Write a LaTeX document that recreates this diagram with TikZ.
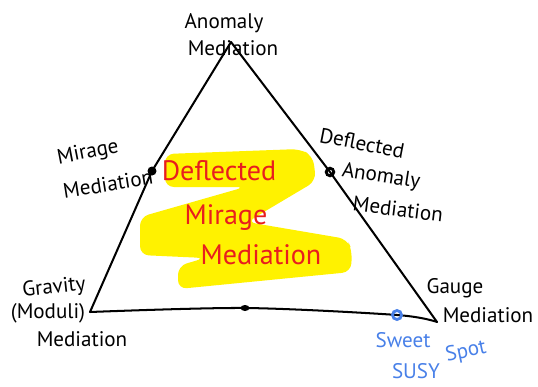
\documentclass[tikz,border=0pt]{standalone}
\usepackage{fontspec}
\setmainfont{PT Sans}
\definecolor{hiyellow}{RGB}{255,242,0}
\definecolor{penred}{RGB}{232,30,30}
\definecolor{penblue}{RGB}{72,128,232}
\begin{document}
\begin{tikzpicture}[x=0.02cm,y=-0.02cm,
  every node/.style={inner sep=0pt, outer sep=0pt, font=\fontsize{12}{14}\selectfont},
  edge/.style={line width=1.15pt, line cap=round, line join=round},
  redlabel/.style={text=penred, font=\fontsize{16}{18}\selectfont},
  bluelabel/.style={text=penblue}]
\useasboundingbox (0,0) rectangle (538,386);
% highlighter scribble
\fill[hiyellow, rounded corners=5pt] (165,154) -- (300,149) -- (313,156) -- (316,181) -- (247,222) -- (347,239)
  -- (352,250) -- (351,272) -- (178,289) -- (178,266) -- (205,258) -- (140,255) -- (140,217) -- (245,187) -- (165,187) -- cycle;
% corners and points on the edges
\coordinate (apex) at (231,42);
\coordinate (gravity) at (90,312);
\coordinate (gauge) at (437,322);
\coordinate (mirage) at (152,171);
\coordinate (deflected) at (330,172);
\coordinate (midbase) at (245,308);
\coordinate (sweet) at (397,315);
\draw[edge] (gravity) -- (mirage) -- (apex);
\draw[edge] (apex) -- (deflected) -- (gauge);
\draw[edge] plot[smooth] coordinates {(gravity) (midbase) (sweet) (gauge)};
\fill (mirage) circle[radius=4.5];
\draw[line width=1.6pt] (deflected) circle[radius=3.8];
\fill (midbase) ellipse[x radius=4.5, y radius=3];
\draw[penblue, line width=1.6pt] (sweet) circle[radius=4.5];
% black labels
\node (anom1) at (224,23) {Anomaly};
\node (anom2) at (233,48) {Mediation};
\node[rotate=11] (mir1) at (88,153) {Mirage};
\node[rotate=9] (mir2) at (108,184) {Mediation};
\node[rotate=-11] (dam1) at (362,143) {Deflected};
\node[rotate=-9] (dam2) at (381,177) {Anomaly};
\node[rotate=-7] (dam3) at (398,209) {Mediation};
\node[rotate=6] (grav1) at (54,288) {Gravity};
\node (grav2) at (48,313) {(Moduli)};
\node (grav3) at (82,339) {Mediation};
\node (gauge1) at (455,288) {Gauge};
\node (gauge2) at (488,315) {Mediation};
% blue labels
\node[bluelabel] (sw1) at (403,340) {Sweet};
\node[bluelabel, rotate=12] (sw2) at (466,352) {Spot};
\node[bluelabel] (sw3) at (416,371) {SUSY};
% red labels
\node[redlabel] (dmm1) at (219,171) {Deflected};
\node[redlabel] (dmm2) at (226,218) {Mirage};
\node[redlabel] (dmm3) at (261,255) {Mediation};
\end{tikzpicture}
\end{document}
